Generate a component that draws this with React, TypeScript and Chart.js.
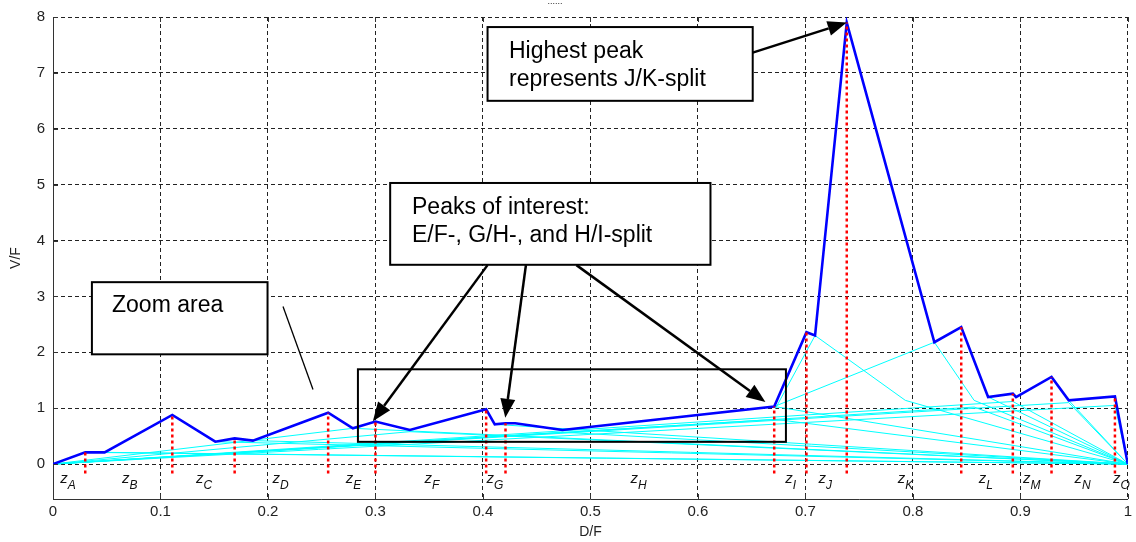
import { useEffect, useRef } from "react";
import { Chart, registerables } from "chart.js";

Chart.register(...registerables);

// ---------- data ----------
const profileX = [0, 0.030, 0.048, 0.111, 0.151, 0.169, 0.186, 0.256, 0.279, 0.300, 0.332, 0.403, 0.411, 0.421, 0.430, 0.474, 0.671, 0.701, 0.709, 0.7385, 0.820, 0.845, 0.870, 0.893, 0.896, 0.929, 0.945, 0.988, 1.0];
const profileY = [0, 0.21, 0.21, 0.88, 0.40, 0.46, 0.42, 0.92, 0.64, 0.76, 0.61, 0.98, 0.71, 0.73, 0.73, 0.61, 1.03, 2.36, 2.30, 7.90, 2.18, 2.45, 1.20, 1.26, 1.20, 1.56, 1.14, 1.21, 0];

const splitX = [0.030, 0.111, 0.169, 0.256, 0.300, 0.403, 0.421, 0.671, 0.701, 0.7385, 0.845, 0.893, 0.929, 0.988];
const splitY = [0.21, 0.88, 0.46, 0.92, 0.76, 0.98, 0.73, 1.03, 2.36, 7.90, 2.45, 1.26, 1.56, 1.21];
const splitBase = -0.17;

const zoneNames = ["A", "B", "C", "D", "E", "F", "G", "H", "I", "J", "K", "L", "M", "N", "O"];
const zoneLabelX = [0.0068, 0.0641, 0.1330, 0.2042, 0.2723, 0.3456, 0.4034, 0.5374, 0.6813, 0.7122, 0.7859, 0.8614, 0.9025, 0.9505, 0.9861];

const xTicks = [0, 0.1, 0.2, 0.3, 0.4, 0.5, 0.6, 0.7, 0.8, 0.9, 1];
const yTicks = [0, 1, 2, 3, 4, 5, 6, 7, 8];

// thin cyan construction lines (polylines, x,y pairs)
const cyanPaths: number[][] = [
  [0, 0, 0.279, 0.64, 1, 0],
  [0, 0, 0.332, 0.58, 1, 0],
  [0, 0, 0.474, 0.57, 1, 0],
  [0, 0, 0.672, 0.80, 1, 0],
  [0, 0, 0.857, 1.02, 1, 0],
  [0, 0, 0.893, 1.12, 1, 0],
  [0, 0, 0.945, 1.10, 1, 0],
  [0, 0, 0.988, 1.05, 1, 0],
  [0.030, 0.21, 1, 0],
  [0.048, 0.21, 1, 0],
  [0.151, 0.40, 1, 0],
  [0.186, 0.42, 1, 0],
  [0.411, 0.71, 1, 0],
  [0.671, 1.03, 1, 0],
  [0.671, 1.03, 0.820, 2.18, 0.857, 1.14, 1, 0],
  [0.672, 0.99, 0.709, 2.30, 0.793, 1.14, 1, 0],
  [0.870, 1.20, 1, 0],
  [0.945, 1.14, 1, 0],
];

const FONT = "'Liberation Sans', Arial, Helvetica, sans-serif";

function drawArrow(ctx: CanvasRenderingContext2D, x1: number, y1: number, x2: number, y2: number) {
  const ang = Math.atan2(y2 - y1, x2 - x1);
  const hl = 19, hw = 7.5;
  const bx = x2 - hl * Math.cos(ang), by = y2 - hl * Math.sin(ang);
  ctx.beginPath();
  ctx.moveTo(x1, y1);
  ctx.lineTo(bx, by);
  ctx.stroke();
  ctx.beginPath();
  ctx.moveTo(x2, y2);
  ctx.lineTo(bx + hw * Math.sin(ang), by - hw * Math.cos(ang));
  ctx.lineTo(bx - hw * Math.sin(ang), by + hw * Math.cos(ang));
  ctx.closePath();
  ctx.fill();
}

const overlayPlugin = {
  id: "overlay",
  afterDraw(chart: any) {
    const { ctx, chartArea } = chart;
    const xs = chart.scales.x, ys = chart.scales.y;
    const px = (v: number) => xs.getPixelForValue(v);
    const py = (v: number) => ys.getPixelForValue(v);
    ctx.save();

    // inward tick marks
    ctx.strokeStyle = "#333";
    ctx.lineWidth = 1;
    ctx.setLineDash([]);
    xTicks.forEach((t) => {
      const X = Math.round(px(t)) + 0.5;
      ctx.beginPath();
      ctx.moveTo(X, chartArea.bottom);
      ctx.lineTo(X, chartArea.bottom - 5);
      ctx.moveTo(X, chartArea.top);
      ctx.lineTo(X, chartArea.top + 5);
      ctx.stroke();
    });
    yTicks.forEach((t) => {
      const Y = Math.round(py(t)) + 0.5;
      ctx.beginPath();
      ctx.moveTo(chartArea.left, Y);
      ctx.lineTo(chartArea.left + 5, Y);
      ctx.stroke();
    });

    // zone labels z_X
    ctx.fillStyle = "#111";
    ctx.textBaseline = "middle";
    ctx.textAlign = "left";
    zoneNames.forEach((n, i) => {
      const X = px(zoneLabelX[i]);
      ctx.font = `italic 15px ${FONT}`;
      ctx.fillText("z", X, 479);
      const w = ctx.measureText("z").width;
      ctx.font = `italic 12px ${FONT}`;
      ctx.fillText(n, X + w, 486);
    });

    // axis titles
    ctx.font = `14px ${FONT}`;
    ctx.fillStyle = "#222";
    ctx.textAlign = "center";
    ctx.fillText("D/F", px(0.5), 532);
    ctx.save();
    ctx.translate(16, 258);
    ctx.rotate(-Math.PI / 2);
    ctx.fillText("V/F", 0, 0);
    ctx.restore();
    ctx.font = `9px ${FONT}`;
    ctx.fillText("......", 555, 2);

    // zoom area rectangle
    ctx.strokeStyle = "#000";
    ctx.lineWidth = 2;
    ctx.strokeRect(px(0.2837), py(1.696), px(0.6819) - px(0.2837), py(0.398) - py(1.696));

    // text boxes
    const box = (x0: number, y0: number, x1: number, y1: number) => {
      const L = px(x0), T = py(y0), R = px(x1), B = py(y1);
      ctx.fillStyle = "#fff";
      ctx.fillRect(L, T, R - L, B - T);
      ctx.strokeStyle = "#000";
      ctx.lineWidth = 2;
      ctx.strokeRect(L, T, R - L, B - T);
    };
    box(0.4043, 7.82, 0.651, 6.5);
    box(0.3137, 5.03, 0.6117, 3.566);
    box(0.0362, 3.255, 0.1996, 1.964);

    ctx.fillStyle = "#000";
    ctx.textAlign = "left";
    ctx.textBaseline = "middle";
    ctx.font = `23px ${FONT}`;
    ctx.fillText("Highest peak", 509, 52);
    ctx.fillText("represents J/K-split", 509, 80);
    ctx.fillText("Peaks of interest:", 412, 208);
    ctx.fillText("E/F-, G/H-, and H/I-split", 412, 236);
    ctx.fillText("Zoom area", 112, 306);

    // arrows
    ctx.strokeStyle = "#000";
    ctx.fillStyle = "#000";
    ctx.lineWidth = 2.5;
    drawArrow(ctx, px(0.651), py(7.362), px(0.7385), py(7.9));
    drawArrow(ctx, px(0.4043), py(3.56), px(0.2976), py(0.768));
    drawArrow(ctx, px(0.440), py(3.56), px(0.4208), py(0.827));
    drawArrow(ctx, px(0.487), py(3.56), px(0.6628), py(1.11));

    // plain pointer line from "Zoom area"
    ctx.lineWidth = 1.3;
    ctx.beginPath();
    ctx.moveTo(px(0.214), py(2.82));
    ctx.lineTo(px(0.2419), py(1.334));
    ctx.stroke();

    ctx.restore();
  },
};

export default function App() {
  const ref = useRef<HTMLCanvasElement | null>(null);

  useEffect(() => {
    if (!ref.current) return;
    Chart.defaults.font.family = FONT;

    const profile = profileX.map((x, i) => ({ x, y: profileY[i] }));
    const splits: any[] = [];
    splitX.forEach((x, i) => {
      splits.push({ x, y: splitBase }, { x, y: splitY[i] }, { x, y: null });
    });
    const cyan: any[] = [];
    cyanPaths.forEach((p) => {
      for (let k = 0; k < p.length; k += 2) cyan.push({ x: p[k], y: p[k + 1] });
      cyan.push({ x: p[p.length - 2], y: null });
    });

    const chart = new Chart(ref.current, {
      type: "line",
      data: {
        datasets: [
          {
            data: splits,
            borderColor: "#ff0000",
            borderWidth: 2.5,
            borderDash: [3, 3],
            pointRadius: 0,
            spanGaps: false,
            order: 0,
          },
          {
            data: profile,
            borderColor: "#0000ff",
            borderWidth: 2.6,
            pointRadius: 0,
            order: 1,
          },
          {
            data: cyan,
            borderColor: "#00ffff",
            borderWidth: 1,
            pointRadius: 0,
            spanGaps: false,
            order: 2,
          },
        ] as any,
      },
      options: {
        responsive: false,
        animation: false,
        layout: { padding: { top: 16, right: 3, left: 0, bottom: 0 } },
        plugins: { legend: { display: false }, tooltip: { enabled: false }, title: { display: false } },
        scales: {
          x: {
            type: "linear",
            min: 0,
            max: 1,
            afterBuildTicks: (s: any) => {
              s.ticks = xTicks.map((v) => ({ value: v }));
            },
            afterFit: (s: any) => {
              s.height = 43;
            },
            ticks: {
              color: "#222",
              font: { size: 15 },
              padding: 4,
              maxRotation: 0,
              autoSkip: false,
              callback: (v: any) => String(+(+v).toFixed(1)),
            },
            grid: { color: "#222", lineWidth: 1, drawTicks: false },
            border: { display: true, color: "#333", width: 1, dash: [4, 3] },
          },
          y: {
            type: "linear",
            min: -0.625,
            max: 8,
            afterBuildTicks: (s: any) => {
              s.ticks = yTicks.map((v) => ({ value: v }));
            },
            afterFit: (s: any) => {
              s.width = 53;
            },
            ticks: {
              color: "#222",
              font: { size: 15 },
              padding: 8,
              autoSkip: false,
              callback: (v: any) => String(v),
            },
            grid: { color: "#222", lineWidth: 1, drawTicks: false },
            border: { display: true, color: "#333", width: 1, dash: [4, 3] },
          },
        },
      } as any,
      plugins: [overlayPlugin],
    });
    return () => chart.destroy();
  }, []);

  return (
    <div style={{ position: "absolute", left: 0, top: 0, width: 1136, height: 542, background: "#fff" }}>
      <canvas ref={ref} width={1136} height={542} />
    </div>
  );
}
